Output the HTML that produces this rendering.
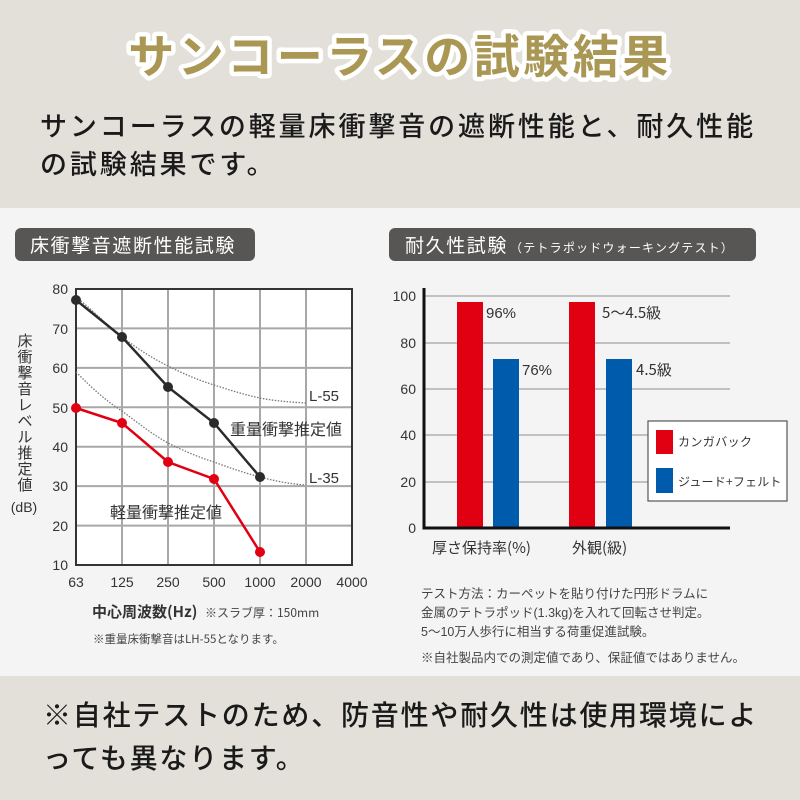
<!DOCTYPE html>
<html lang="ja">
<head>
<meta charset="utf-8">
<style>
  html,body{margin:0;padding:0;width:800px;height:800px;overflow:hidden;background:#f4f4f4;}
  svg{display:block;}
  text{font-family:"Liberation Sans","Noto Sans CJK JP",sans-serif;}
  .jp{font-family:"Noto Sans CJK JP","Liberation Sans",sans-serif;}
</style>
</head>
<body>
<svg width="800" height="800" viewBox="0 0 800 800" xmlns="http://www.w3.org/2000/svg">
  <!-- backgrounds -->
  <rect x="0" y="0" width="800" height="208" fill="#e3e0da"/>
  <rect x="0" y="208" width="800" height="468" fill="#f4f4f4"/>
  <rect x="0" y="676" width="800" height="124" fill="#e3e0da"/>

  <!-- title -->
  <text class="jp" x="400" y="73" text-anchor="middle" font-size="46" font-weight="bold" letter-spacing="3.5" fill="#a99753" stroke="#ffffff" stroke-width="9" stroke-linejoin="round" paint-order="stroke">サンコーラスの試験結果</text>

  <!-- subtitle -->
  <text class="jp" x="40" y="136" font-size="27" font-weight="500" letter-spacing="2.9" fill="#1a1a1a">サンコーラスの軽量床衝撃音の遮断性能と、耐久性能</text>
  <text class="jp" x="40" y="174" font-size="27" font-weight="500" letter-spacing="2.9" fill="#1a1a1a">の試験結果です。</text>

  <!-- headers -->
  <rect x="15" y="228" width="240" height="33" rx="6" fill="#585654"/>
  <text class="jp" x="30" y="252" font-size="19" letter-spacing="1.6" fill="#ffffff">床衝撃音遮断性能試験</text>
  <rect x="389" y="228" width="367" height="33" rx="6" fill="#585654"/>
  <text class="jp" x="405" y="252" font-size="19" letter-spacing="1.6" fill="#ffffff">耐久性試験<tspan font-size="12" dx="2" letter-spacing="1.2">（テトラポッドウォーキングテスト）</tspan></text>

  <!-- ============ LEFT LINE CHART ============ -->
  <rect x="76" y="289" width="276" height="276" fill="#ffffff"/>
  <g stroke="#a8a8a8" stroke-width="2">
    <line x1="122" y1="289" x2="122" y2="565"/>
    <line x1="168" y1="289" x2="168" y2="565"/>
    <line x1="214" y1="289" x2="214" y2="565"/>
    <line x1="260" y1="289" x2="260" y2="565"/>
    <line x1="306" y1="289" x2="306" y2="565"/>
    <line x1="76" y1="328.4" x2="352" y2="328.4"/>
    <line x1="76" y1="367.9" x2="352" y2="367.9"/>
    <line x1="76" y1="407.3" x2="352" y2="407.3"/>
    <line x1="76" y1="446.7" x2="352" y2="446.7"/>
    <line x1="76" y1="486.1" x2="352" y2="486.1"/>
    <line x1="76" y1="525.6" x2="352" y2="525.6"/>
  </g>
  <rect x="76" y="289" width="276" height="276" fill="none" stroke="#333333" stroke-width="2"/>

  <!-- dotted reference curves -->
  <path d="M76,297 C95,312 110,328 122,337 C138,349 152,358 168,366 C184,374 198,380 214,385 C230,390 245,395 260,398 C275,401 290,402 306,403" fill="none" stroke="#777" stroke-width="1.3" stroke-dasharray="1.5,1.5"/>
  <path d="M76,372 C92,388 106,401 122,411 C138,423 152,434 168,443 C184,451 198,457 214,462 C230,468 245,473 260,477 C275,481 290,484 306,485" fill="none" stroke="#777" stroke-width="1.3" stroke-dasharray="1.5,1.5"/>

  <!-- black series -->
  <polyline points="76,300 122,337 168,387 214,423 260,477" fill="none" stroke="#2b2b2b" stroke-width="2.5"/>
  <g fill="#2b2b2b">
    <circle cx="76" cy="300" r="5"/><circle cx="122" cy="337" r="5"/><circle cx="168" cy="387" r="5"/><circle cx="214" cy="423" r="5"/><circle cx="260" cy="477" r="5"/>
  </g>
  <!-- red series -->
  <polyline points="76,408 122,423 168,462 214,479 260,552" fill="none" stroke="#e00012" stroke-width="2.5"/>
  <g fill="#e00012">
    <circle cx="76" cy="408" r="5"/><circle cx="122" cy="423" r="5"/><circle cx="168" cy="462" r="5"/><circle cx="214" cy="479" r="5"/><circle cx="260" cy="552" r="5"/>
  </g>

  <!-- annotations -->
  <text x="309" y="401" font-size="15" fill="#333">L-55</text>
  <text x="309" y="483" font-size="15" fill="#333">L-35</text>
  <text class="jp" x="230" y="435" font-size="16" fill="#333">重量衝撃推定値</text>
  <text class="jp" x="110" y="518" font-size="16" fill="#333">軽量衝撃推定値</text>

  <!-- y ticks -->
  <g font-size="14" fill="#333" text-anchor="end">
    <text x="68" y="294">80</text>
    <text x="68" y="334">70</text>
    <text x="68" y="373">60</text>
    <text x="68" y="413">50</text>
    <text x="68" y="452">40</text>
    <text x="68" y="491">30</text>
    <text x="68" y="531">20</text>
    <text x="68" y="570">10</text>
  </g>
  <!-- x ticks -->
  <g font-size="14" fill="#333" text-anchor="middle">
    <text x="76" y="587">63</text>
    <text x="122" y="587">125</text>
    <text x="168" y="587">250</text>
    <text x="214" y="587">500</text>
    <text x="260" y="587">1000</text>
    <text x="306" y="587">2000</text>
    <text x="352" y="587">4000</text>
  </g>
  <!-- y axis label vertical -->
  <g class="jp" font-size="15" fill="#333" text-anchor="middle">
    <text x="25" y="346">床</text>
    <text x="25" y="362">衝</text>
    <text x="25" y="378">撃</text>
    <text x="25" y="394">音</text>
    <text x="25" y="410">レ</text>
    <text x="25" y="426">ベ</text>
    <text x="25" y="442">ル</text>
    <text x="25" y="458">推</text>
    <text x="25" y="474">定</text>
    <text x="25" y="490">値</text>
  </g>
  <text x="24" y="512" font-size="14" fill="#333" text-anchor="middle">(dB)</text>

  <text class="jp" x="92" y="617" font-size="15" font-weight="bold" fill="#333">中心周波数(Hz)</text>
  <text class="jp" x="205" y="617" font-size="12" fill="#444">※スラブ厚：150mm</text>
  <text class="jp" x="93" y="643" font-size="11.5" fill="#444">※重量床衝撃音はLH-55となります。</text>

  <!-- ============ RIGHT BAR CHART ============ -->
  <g stroke="#b0b0b0" stroke-width="1.5">
    <line x1="424" y1="296" x2="730" y2="296"/>
    <line x1="424" y1="343" x2="730" y2="343"/>
    <line x1="424" y1="389" x2="730" y2="389"/>
    <line x1="424" y1="435" x2="730" y2="435"/>
    <line x1="424" y1="482" x2="730" y2="482"/>
  </g>
  <!-- bars -->
  <rect x="457" y="302" width="26" height="226" fill="#e00012"/>
  <rect x="493" y="359" width="26" height="169" fill="#005bac"/>
  <rect x="569" y="302" width="26" height="226" fill="#e00012"/>
  <rect x="606" y="359" width="26" height="169" fill="#005bac"/>
  <!-- axes -->
  <line x1="424" y1="288" x2="424" y2="529.5" stroke="#111" stroke-width="3"/>
  <line x1="422.5" y1="528" x2="730" y2="528" stroke="#111" stroke-width="3"/>
  <!-- ticks -->
  <g font-size="14" fill="#333" text-anchor="end">
    <text x="416" y="301">100</text>
    <text x="416" y="348">80</text>
    <text x="416" y="394">60</text>
    <text x="416" y="440">40</text>
    <text x="416" y="487">20</text>
    <text x="416" y="533">0</text>
  </g>
  <!-- value labels -->
  <g font-size="15" fill="#333">
    <text x="486" y="318">96%</text>
    <text x="522" y="375">76%</text>
    <text class="jp" x="602" y="318">5〜4.5級</text>
    <text class="jp" x="636" y="375">4.5級</text>
  </g>
  <!-- category labels -->
  <text class="jp" x="432" y="553" font-size="15" fill="#333">厚さ保持率(%)</text>
  <text class="jp" x="572" y="553" font-size="15" fill="#333">外観(級)</text>

  <!-- legend -->
  <rect x="648" y="421" width="139" height="80" fill="#ffffff" stroke="#555" stroke-width="1.2"/>
  <rect x="656" y="430" width="17" height="24" fill="#e00012"/>
  <rect x="656" y="468" width="17" height="25" fill="#005bac"/>
  <text class="jp" x="678" y="446" font-size="12" letter-spacing="0.4" fill="#333">カンガバック</text>
  <text class="jp" x="678" y="486" font-size="12" letter-spacing="0.2" fill="#333">ジュード+フェルト</text>

  <!-- notes -->
  <g class="jp" font-size="12.5" fill="#444">
    <text x="421" y="598">テスト方法：カーペットを貼り付けた円形ドラムに</text>
    <text x="421" y="617">金属のテトラポッド(1.3kg)を入れて回転させ判定。</text>
    <text x="421" y="636">5〜10万人歩行に相当する荷重促進試験。</text>
    <text x="421" y="662">※自社製品内での測定値であり、保証値ではありません。</text>
  </g>

  <!-- bottom note -->
  <text class="jp" x="43" y="725" font-size="28" font-weight="500" letter-spacing="1.8" fill="#1a1a1a">※自社テストのため、防音性や耐久性は使用環境によ</text>
  <text class="jp" x="43" y="768" font-size="28" font-weight="500" letter-spacing="1.8" fill="#1a1a1a">っても異なります。</text>
</svg>
</body>
</html>
